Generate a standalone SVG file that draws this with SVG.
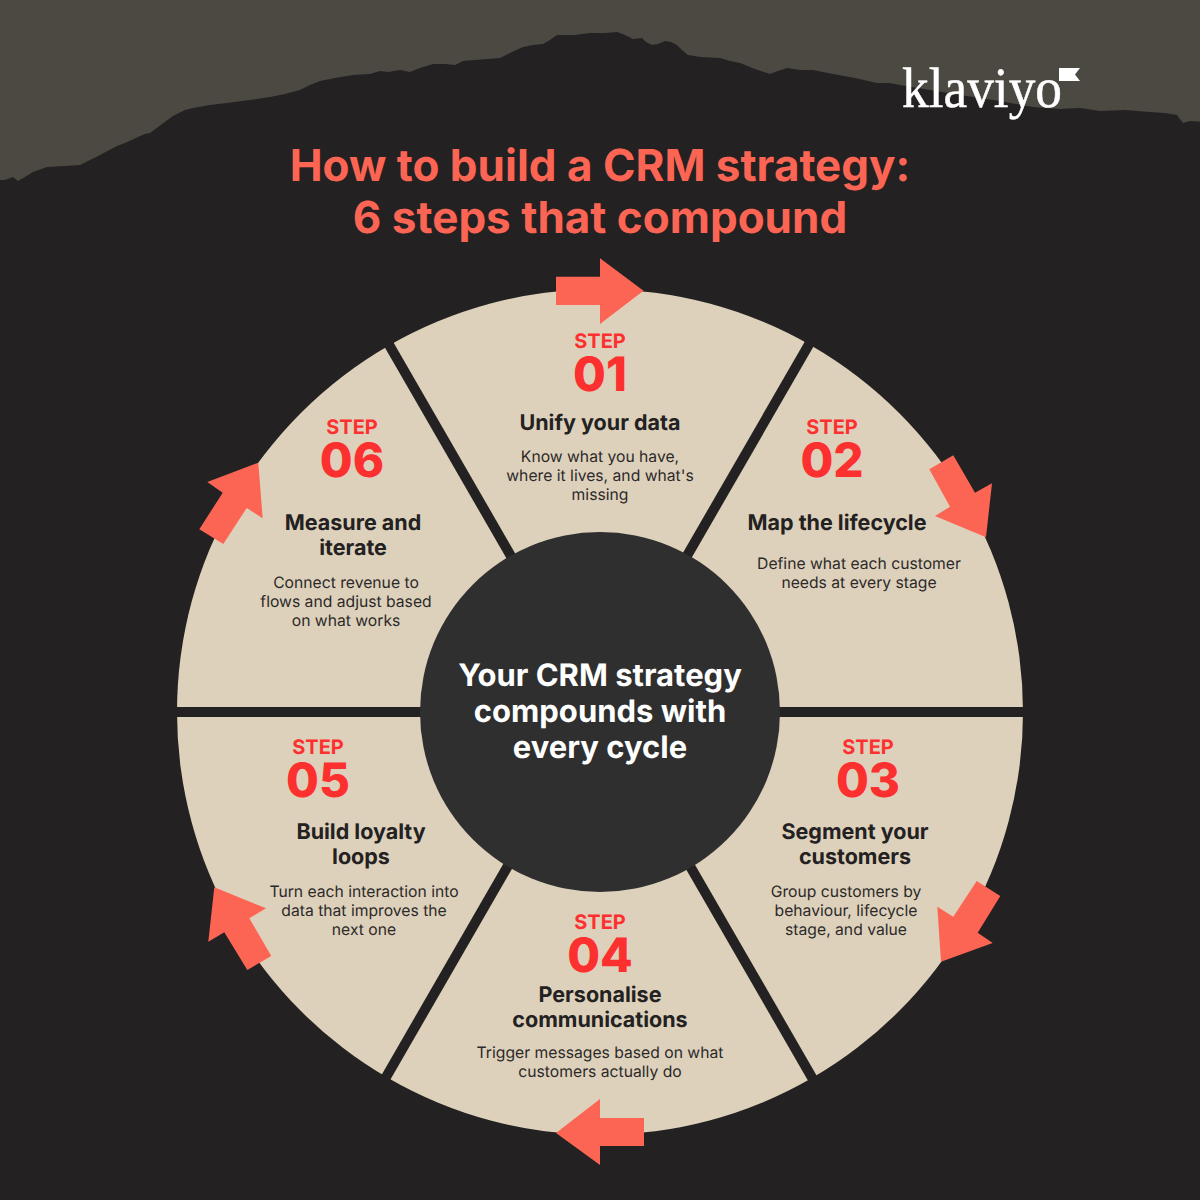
<svg xmlns="http://www.w3.org/2000/svg" width="1200" height="1200" viewBox="0 0 1200 1200">
<defs>
<style>
text{font-family:Inter,"Liberation Sans",sans-serif;text-anchor:middle;text-rendering:geometricPrecision}
.title{font-size:44px;font-weight:700;fill:#fc6554}
.sector{fill:#ded1bb}
.step{font-size:20px;font-weight:700;fill:#fd3030}
.num{font-size:47.500px;font-weight:800;fill:#fd3030}
.head{font-size:21.500px;font-weight:700;fill:#232122}
.body{font-size:15.700px;font-weight:400;fill:#2b2929}
.hub{font-size:31px;font-weight:700;fill:#fff}
.spoke{stroke:#232122;stroke-width:10;fill:none}
.arrow{fill:#fc6554}
</style>
<filter id="soft" x="-1%" y="-1%" width="102%" height="102%"><feGaussianBlur stdDeviation="0.6"/></filter>
</defs>
<rect id="bg" width="1200" height="1200" fill="#232122"/>
<path id="ridge" fill="#4b4843" filter="url(#soft)" d="M-5 -5H1205V122L1190 121L1183 123L1180 119L1177 115L1165 113L1150 112L1125 110L1100 111L1080 108L1060 109L1033 107L1000 101L960 95L900 85L890 83L877 83L855 78L833 74L813 70L800 70L787 68L778 71L770 74L755 69L740 63L730 61L720 58L700 57L688 55L682 50L677 45L671 42L665 41L658 44L652 45L646 42L642 38L633 39L625 35L617 32L605 33L590 33L575 35L557 35L550 40L543 44L533 45L523 47L512 52L500 58L487 59L475 60L463 61L455 65L445 64L433 64L420 68L410 72L400 70L388 72L380 71L370 74L353 75L335 78L320 81L310 85L300 90L285 94L270 97L250 100L227 103L210 105L193 108L185 110L173 116L162 124L150 133L145 134L138 137L125 143L117 146L100 155L80 165L65 166L47 167L33 172L25 177L18 181L13 177L5 180L-5 180Z"/>
<g id="title">
<text class="title" x="600" y="181">How to build a CRM strategy:</text>
<text class="title" x="600" y="233">6 steps that compound</text>
</g>
<g id="logo">
<text x="902" y="107" textLength="160" lengthAdjust="spacingAndGlyphs" style="font-family:'Liberation Serif',serif;font-size:57px;text-anchor:start;fill:#fff;stroke:#fff;stroke-width:0.500">klaviyo</text>
<polygon points="1059,68 1080,68 1075,74.500 1080,81 1059,81" fill="#fff"/>
</g>
<g id="step1">
<path class="sector" d="M600 712L388.500 345.700A423 423 0 0 1 811.500 345.700Z"/>
<text class="step" x="600" y="348">STEP</text>
<text class="num" x="600" y="390.500">01</text>
<text class="head" x="600" y="430">Unify your data</text>
<text class="body" x="600" y="462">Know what you have,</text>
<text class="body" x="600" y="481">where it lives, and what's</text>
<text class="body" x="600" y="500">missing</text>
</g>
<g id="step2">
<path class="sector" d="M600 712L811.500 345.700A423 423 0 0 1 1023 712Z"/>
<text class="step" x="832" y="434">STEP</text>
<text class="num" x="832" y="476.500">02</text>
<text class="head" x="837" y="530">Map the lifecycle</text>
<text class="body" x="859" y="569">Define what each customer</text>
<text class="body" x="859" y="588">needs at every stage</text>
</g>
<g id="step3">
<path class="sector" d="M600 712L1023 712A423 423 0 0 1 811.500 1078.300Z"/>
<text class="step" x="868" y="754">STEP</text>
<text class="num" x="868" y="796.500">03</text>
<text class="head" x="855" y="839">Segment your</text>
<text class="head" x="855" y="864">customers</text>
<text class="body" x="846" y="897">Group customers by</text>
<text class="body" x="846" y="916">behaviour, lifecycle</text>
<text class="body" x="846" y="935">stage, and value</text>
</g>
<g id="step4">
<path class="sector" d="M600 712L811.500 1078.300A423 423 0 0 1 388.500 1078.300Z"/>
<text class="step" x="600" y="929">STEP</text>
<text class="num" x="600" y="971.500">04</text>
<text class="head" x="600" y="1002">Personalise</text>
<text class="head" x="600" y="1027">communications</text>
<text class="body" x="600" y="1058">Trigger messages based on what</text>
<text class="body" x="600" y="1077">customers actually do</text>
</g>
<g id="step5">
<path class="sector" d="M600 712L388.500 1078.300A423 423 0 0 1 177 712Z"/>
<text class="step" x="318" y="754">STEP</text>
<text class="num" x="318" y="796.500">05</text>
<text class="head" x="361" y="839">Build loyalty</text>
<text class="head" x="361" y="864">loops</text>
<text class="body" x="364" y="897">Turn each interaction into</text>
<text class="body" x="364" y="916">data that improves the</text>
<text class="body" x="364" y="935">next one</text>
</g>
<g id="step6">
<path class="sector" d="M600 712L177 712A423 423 0 0 1 388.500 345.700Z"/>
<text class="step" x="352" y="434">STEP</text>
<text class="num" x="352" y="476.500">06</text>
<text class="head" x="353" y="530">Measure and</text>
<text class="head" x="353" y="555">iterate</text>
<text class="body" x="346" y="588">Connect revenue to</text>
<text class="body" x="346" y="607">flows and adjust based</text>
<text class="body" x="346" y="626">on what works</text>
</g>
<g id="spokes">
<line class="spoke" x1="170" y1="712" x2="1030" y2="712"/>
<line class="spoke" x1="386" y1="339.600" x2="816" y2="1084.400"/>
<line class="spoke" x1="811.800" y1="339.600" x2="381.800" y2="1084.400"/>
</g>
<g id="hub">
<circle cx="600" cy="712" r="180" fill="#302f2f"/>
<text class="hub" x="600" y="686">Your CRM strategy</text>
<text class="hub" x="600" y="722">compounds with</text>
<text class="hub" x="600" y="758">every cycle</text>
</g>
<g id="connectors" class="arrow">
<polygon points="556,276.700 600,276.700 600,258.300 643.500,290.800 600,324 600,305 556,305"/>
<polygon points="953.300,455.300 975,492.700 992,483.300 986,537.300 935,516 950,506.700 929.300,469.300"/>
<polygon points="1000.300,896 977.700,932.700 992.700,943 941,961.700 937.300,906.700 953.300,916.700 976.700,881"/>
<polygon points="644,1118 600,1118 600,1099 556,1133 600,1165 600,1146 644,1146"/>
<polygon points="247.300,970 224.300,932.300 208.300,941.700 214.300,887.300 266,908.300 249.300,918.300 271.300,956"/>
<polygon points="199.300,529.300 222.700,492.700 207.300,482 258.300,462.700 262.700,518.300 246.700,508 223.300,544"/>
</g>
</svg>
